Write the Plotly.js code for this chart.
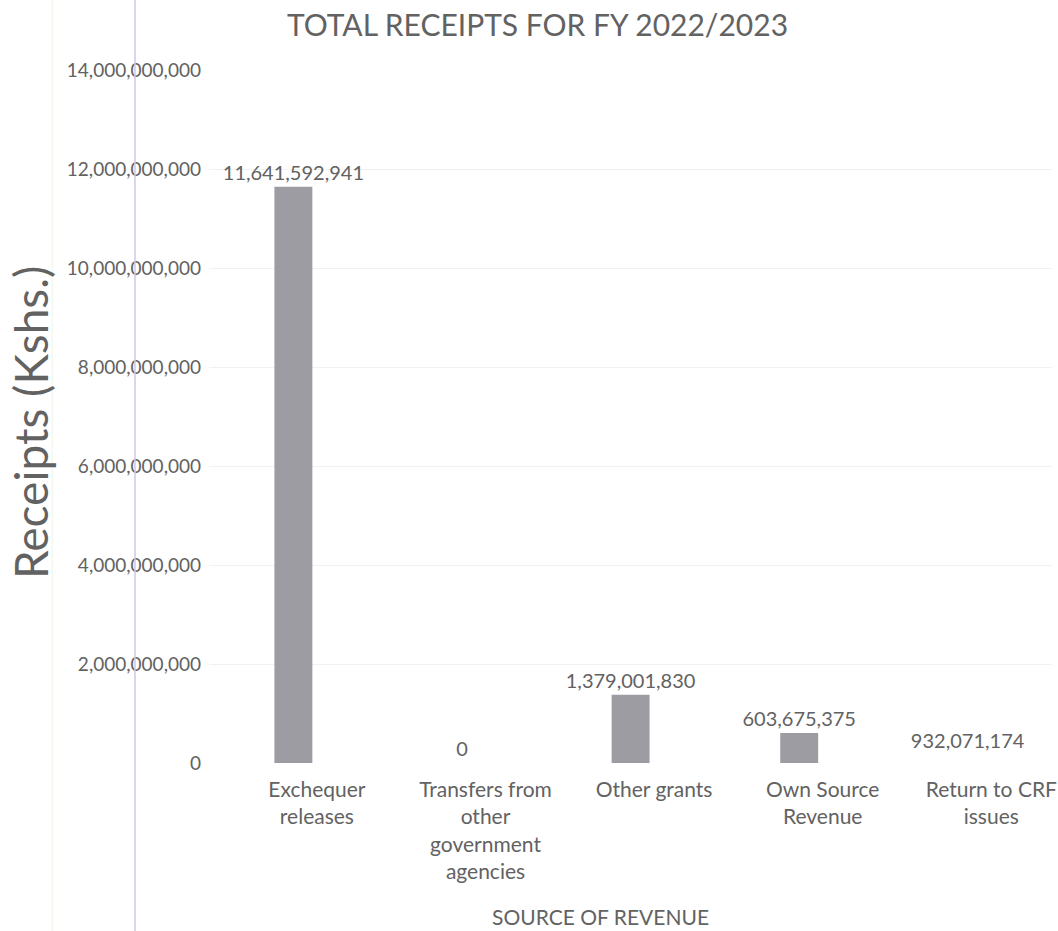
<!DOCTYPE html>
<html>
<head>
<meta charset="utf-8">
<script src="https://cdn.plot.ly/plotly-3.0.1.min.js"></script>
<style>
  html, body { margin: 0; padding: 0; background: #ffffff; }
  #chart { width: 1058px; height: 931px; }
</style>
</head>
<body>
<div id="chart"></div>
<script>
// Receipts by source of revenue, FY 2022/2023 (Kshs.)
const categories = [
  'Exchequer<br>releases',
  'Transfers from<br>other<br>government<br>agencies',
  'Other grants',
  'Own Source<br>Revenue',
  'Return to CRF<br>issues'
];
const receipts = [11641592941, 0, 1379001830, 603675375, 932071174];
const tickValues = [0, 2e9, 4e9, 6e9, 8e9, 10e9, 12e9, 14e9];
const tickLabels = ['0', '2,000,000,000', '4,000,000,000', '6,000,000,000',
  '8,000,000,000', '10,000,000,000', '12,000,000,000', '14,000,000,000'];

const fmt = v => v.toLocaleString('en-US');
const FONT = 'Lato, "Open Sans", sans-serif';
const TEXT = '#626262';

// the CRF return is shown as an unfilled bar with its figure inside
const barColors = receipts.map((v, i) => i === 4 ? 'rgba(0,0,0,0)' : '#9c9ca2');
const textPos = receipts.map((v, i) => i === 4 ? 'inside' : 'outside');

const trace = {
  type: 'bar',
  x: categories,
  y: receipts,
  // bars sit in the left half of each category slot
  width: 0.225,
  offset: -0.252,
  marker: { color: barColors, line: { width: 0 } },
  text: receipts.map(fmt),
  textposition: textPos,
  insidetextanchor: 'middle',
  constraintext: 'none',
  textangle: 0,
  cliponaxis: false,
  textfont: { family: FONT, size: 20, color: TEXT },
  outsidetextfont: { family: FONT, size: 20, color: TEXT },
  insidetextfont: { family: FONT, size: 20, color: TEXT },
  hoverinfo: 'none'
};

const layout = {
  width: 1058,
  height: 931,
  paper_bgcolor: '#ffffff',
  plot_bgcolor: '#ffffff',
  margin: { l: 209, r: 6, t: 70, b: 168 },
  showlegend: false,
  title: {
    text: 'TOTAL RECEIPTS FOR FY 2022/2023',
    x: 0.508, xanchor: 'center',
    y: 0.973, yanchor: 'middle',
    font: { family: FONT, size: 30, color: TEXT }
  },
  xaxis: {
    type: 'category',
    range: [-0.64, 4.36],
    showline: false,
    showgrid: false,
    zeroline: false,
    ticks: '',
    ticklabelstandoff: 12,
    tickfont: { family: FONT, size: 21, color: TEXT },
    automargin: false
  },
  yaxis: {
    range: [0, 14e9],
    tickvals: tickValues,
    ticktext: tickLabels,
    showline: false,
    showgrid: true,
    gridcolor: '#f1f1f1',
    gridwidth: 1,
    zeroline: false,
    ticks: '',
    ticklabelstandoff: 7,
    tickfont: { family: FONT, size: 19, color: TEXT },
    automargin: false
  },
  annotations: [
    {
      // y-axis title
      text: 'Receipts (Kshs.)',
      xref: 'paper', yref: 'paper',
      x: -0.2123, y: 0.4906,
      xanchor: 'center', yanchor: 'middle',
      textangle: -90, showarrow: false,
      font: { family: FONT, size: 46, color: TEXT }
    },
    {
      // x-axis title
      text: 'SOURCE OF REVENUE',
      xref: 'paper', yref: 'paper',
      x: 0.464, y: -0.222,
      xanchor: 'center', yanchor: 'middle',
      showarrow: false,
      font: { family: FONT, size: 21, color: TEXT }
    }
  ],
  shapes: [
    {
      type: 'line', xref: 'paper', yref: 'paper',
      x0: -0.0878, x1: -0.0878, y0: -0.245, y1: 1.101,
      line: { color: '#cfc6ea', width: 1.5 }
    },
    {
      type: 'line', xref: 'paper', yref: 'paper',
      x0: -0.186, x1: -0.186, y0: -0.245, y1: 1.101,
      line: { color: '#eef5e6', width: 1 }
    }
  ]
};

Plotly.newPlot('chart', [trace], layout, { displayModeBar: false, staticPlot: true });
</script>
</body>
</html>
